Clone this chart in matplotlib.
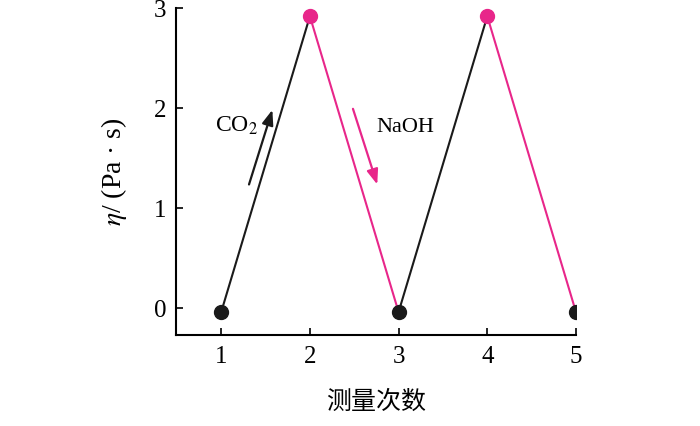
import matplotlib.pyplot as plt

# data
runs = [1, 2, 3, 4, 5]
viscosity = [-0.04, 2.92, -0.04, 2.92, -0.04]
point_colors = ['#1a1a1a', '#e8268a', '#1a1a1a', '#e8268a', '#1a1a1a']
segment_colors = ['#1a1a1a', '#e8268a', '#1a1a1a', '#e8268a']

x_ticks = [1, 2, 3, 4, 5]
y_ticks = [0, 1, 2, 3]

plt.rcParams['font.family'] = ['Liberation Serif', 'Noto Sans CJK SC']
plt.rcParams['mathtext.fontset'] = 'stix'

fig = plt.figure(figsize=(7, 4.26), dpi=100)
ax = fig.add_axes([0.2514, 0.2136, 0.5714, 0.767])

# connecting segments
for i in range(len(runs) - 1):
    ax.plot(runs[i:i + 2], viscosity[i:i + 2], color=segment_colors[i], lw=1.5, zorder=2)

# points
for x, y, c in zip(runs, viscosity, point_colors):
    ax.plot(x, y, 'o', color=c, markersize=10, zorder=3)

# direction arrows
arrow = '-|>,head_length=0.45,head_width=0.17'
ax.annotate('', xy=(1.586, 2.01), xytext=(1.304, 1.21),
            arrowprops=dict(arrowstyle=arrow, color='#1a1a1a', lw=1.6, mutation_scale=20))
ax.annotate('', xy=(2.769, 1.21), xytext=(2.476, 2.02),
            arrowprops=dict(arrowstyle=arrow, color='#e8268a', lw=1.6, mutation_scale=20))

ax.text(1.17, 1.82, r'CO$_2$', fontsize=17, ha='center', va='center')
ax.text(3.08, 1.81, 'NaOH', fontsize=16, ha='center', va='center')

ax.set_xlim(0.49, 5.0)
ax.set_ylim(-0.27, 3.0)
ax.set_xticks(x_ticks)
ax.set_yticks(y_ticks)
ax.tick_params(direction='in', length=5, width=1.2, labelsize=18)
ax.tick_params(axis='x', pad=8)
ax.tick_params(axis='y', pad=7)
for s in ['top', 'right']:
    ax.spines[s].set_visible(False)
for s in ['left', 'bottom']:
    ax.spines[s].set_linewidth(1.5)

ax.set_xlabel('测量次数', fontsize=18, labelpad=16)
ax.set_ylabel(r'$\eta$/ (Pa · s)', fontsize=20, labelpad=18)

fig.savefig('out.png')
